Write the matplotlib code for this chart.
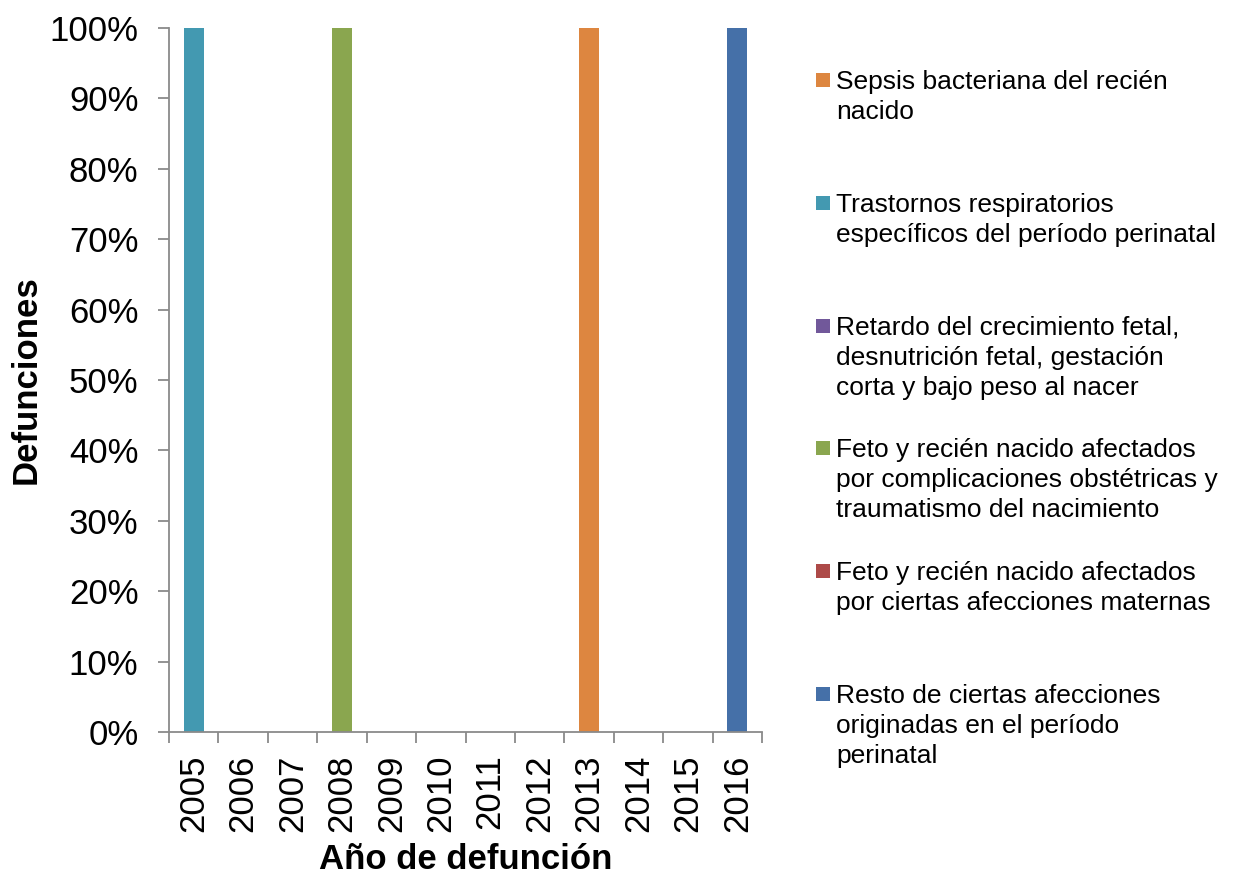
import matplotlib
matplotlib.use("Agg")
import matplotlib.pyplot as plt
import numpy as np
from matplotlib.patches import Rectangle
from matplotlib.ticker import PercentFormatter

plt.rcParams['font.family'] = ['Liberation Sans', 'DejaVu Sans']

years = ['2005', '2006', '2007', '2008', '2009', '2010',
         '2011', '2012', '2013', '2014', '2015', '2016']

# series, bottom of the stack first (legend lists them top first)
resto = [0, 0, 0, 0, 0, 0, 0, 0, 0, 0, 0, 1]
maternas = [0, 0, 0, 0, 0, 0, 0, 0, 0, 0, 0, 0]
complicaciones = [0, 0, 0, 1, 0, 0, 0, 0, 0, 0, 0, 0]
retardo = [0, 0, 0, 0, 0, 0, 0, 0, 0, 0, 0, 0]
trastornos = [1, 0, 0, 0, 0, 0, 0, 0, 0, 0, 0, 0]
sepsis = [0, 0, 0, 0, 0, 0, 0, 0, 1, 0, 0, 0]

series_labels = [
    "Resto de ciertas afecciones\noriginadas en el período\nperinatal",
    "Feto y recién nacido afectados\npor ciertas afecciones maternas",
    "Feto y recién nacido afectados\npor complicaciones obstétricas y\ntraumatismo del nacimiento",
    "Retardo del crecimiento fetal,\ndesnutrición fetal, gestación\ncorta y bajo peso al nacer",
    "Trastornos respiratorios\nespecíficos del período perinatal",
    "Sepsis bacteriana del recién\nnacido",
]
series_colors = ['#4570A8', '#AD4A48', '#8AA64F', '#71589A', '#4399B1', '#DD8640']
series_values = [resto, maternas, complicaciones, retardo, trastornos, sepsis]

data = np.array(series_values, dtype=float)
totals = data.sum(axis=0)
shares = np.divide(data, totals, out=np.zeros_like(data), where=totals > 0)

W, H = 1233, 876
fig = plt.figure(figsize=(W / 100, H / 100), dpi=100)
ax = fig.add_axes([169 / W, 1 - 732 / H, 593 / W, 704 / H])

x = np.arange(len(years))
bottom = np.zeros(len(years))
for vals, col in zip(shares, series_colors):
    ax.bar(x, vals, width=0.405, bottom=bottom, color=col, linewidth=0)
    bottom += vals

grey = '#8A8A8A'
ax.set_xlim(-0.5, len(years) - 0.5)
ax.set_ylim(0, 1)
ax.yaxis.set_major_locator(plt.MultipleLocator(0.1))
ax.yaxis.set_major_formatter(PercentFormatter(1.0, decimals=0))
ax.set_xticks(x)
ax.set_xticklabels(years, rotation=90, fontsize=25)
ax.set_xticks(np.arange(-0.5, len(years)), minor=True)
ax.tick_params(axis='x', which='major', length=0, pad=16)
ax.tick_params(axis='x', which='minor', length=8, width=1.3, color=grey, direction='out')
ax.tick_params(axis='y', length=8, width=1.3, color=grey, direction='out', labelsize=25, pad=14)

for s in ['top', 'right']:
    ax.spines[s].set_visible(False)
for s in ['left', 'bottom']:
    ax.spines[s].set_color(grey)
    ax.spines[s].set_linewidth(1.3)

ax.set_ylabel("Defunciones", fontsize=25, fontweight='bold')
ax.yaxis.set_label_coords(-0.2125, 0.5)
ax.set_xlabel("Año de defunción", fontsize=25, fontweight='bold', labelpad=8)

# legend, top entry first, evenly spaced slots like the original
for i in range(len(series_labels)):
    k = len(series_labels) - 1 - i
    yc = 80 + i * 122.8
    fig.patches.append(Rectangle((816 / W, 1 - (yc + 7) / H), 14 / W, 14 / H,
                                 transform=fig.transFigure, color=series_colors[k],
                                 linewidth=0))
    for j, line in enumerate(series_labels[k].split("\n")):
        fig.text(836 / W, 1 - (yc + 9 + j * 30) / H, line, fontsize=19,
                 va='baseline', ha='left')

fig.savefig("out.png", dpi=100)
